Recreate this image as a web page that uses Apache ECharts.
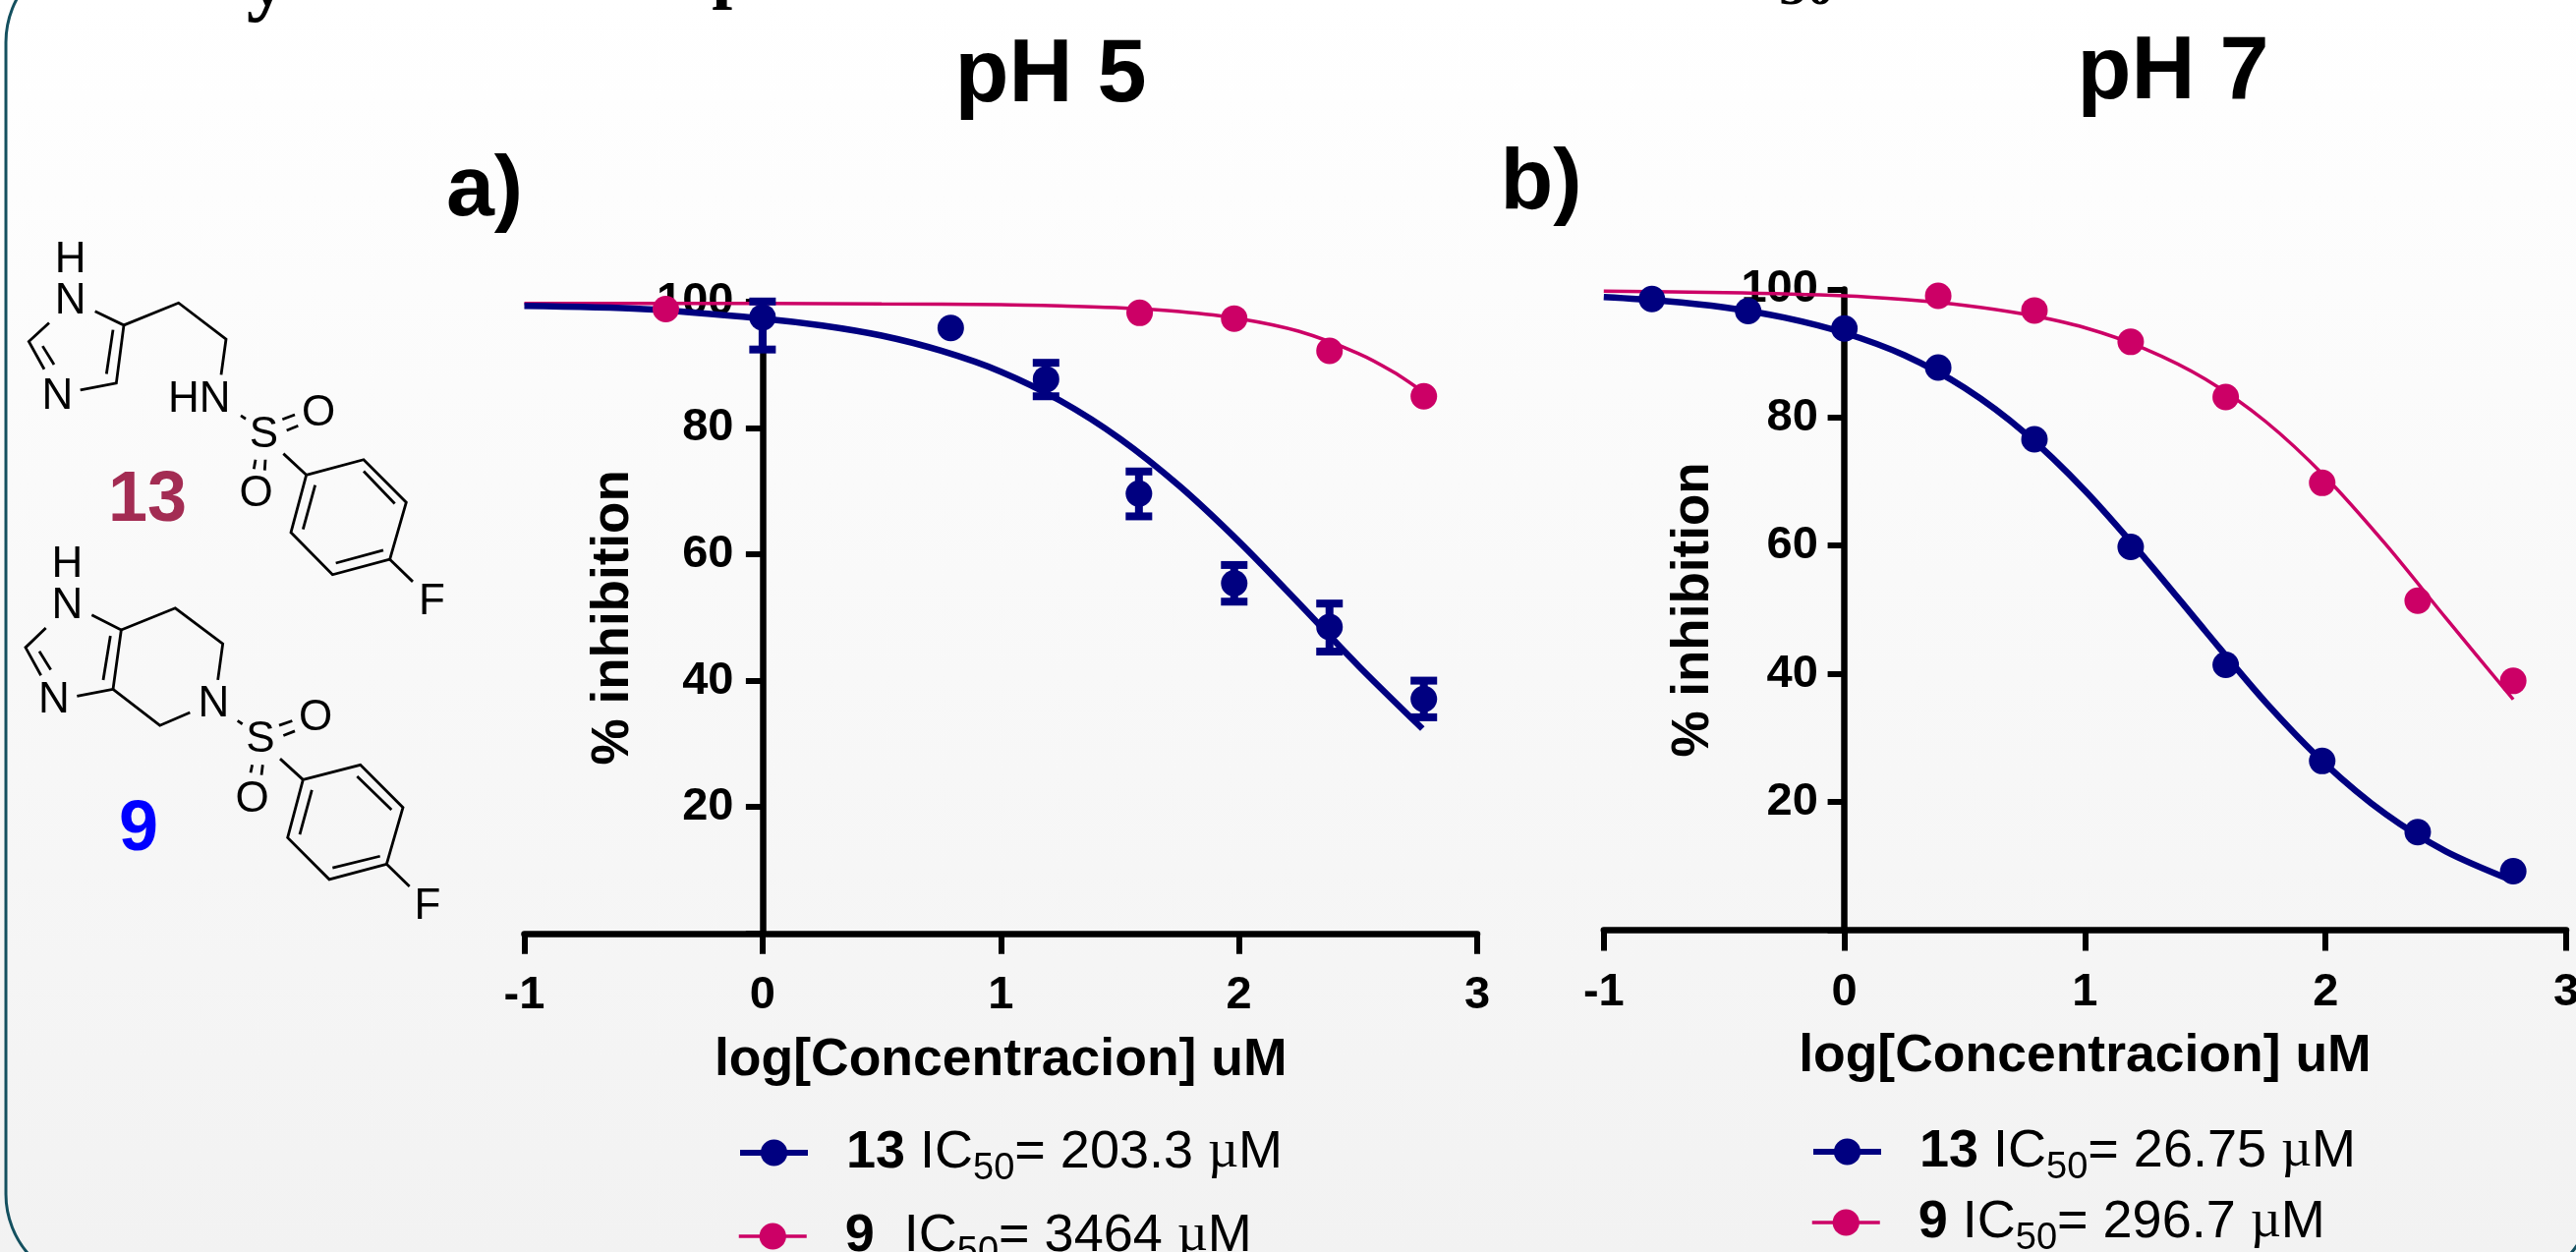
<!DOCTYPE html>
<html><head><meta charset="utf-8">
<style>html,body{margin:0;padding:0;background:#fff}#c{width:2621px;height:1274px}</style>
<script src="https://cdn.jsdelivr.net/npm/echarts@6/dist/echarts.min.js"></script>
</head><body><div id="c"></div>
<script>
// ---- data ----
const yTickLabels = [20, 40, 60, 80, 100];

const aNavyPointX = [0, 0.79, 1.19, 1.58, 1.98, 2.38, 2.776];
const aNavyPointY = [97.5, 95.8, 87.7, 69.6, 55.4, 48.5, 37.1];
const aNavyErrLow = [92.4, 95.8, 85, 66, 52.5, 44.6, 34.2];
const aNavyErrHigh = [100, 95.8, 90.3, 73.1, 58.3, 52.2, 40];
const aNavyCurveX = [-1, -0.5, 0, 0.25, 0.5, 0.75, 1, 1.25, 1.5, 1.75, 2, 2.25, 2.5, 2.77];
const aNavyCurveY = [99.3, 98.8, 97.3, 96.2, 94.6, 92.2, 88.9, 84.3, 78.3, 70.8, 62, 52.3, 42.4, 32.4];
const aPinkPointX = [-0.406, 1.583, 1.98, 2.38, 2.776];
const aPinkPointY = [98.8, 98.2, 97.3, 92.2, 85];
const aPinkCurveX = [-1, -0.5, 0, 0.5, 1, 1.25, 1.5, 1.75, 2, 2.25, 2.5, 2.65, 2.78];
const aPinkCurveY = [99.7, 99.7, 99.7, 99.6, 99.5, 99.3, 99.0, 98.4, 97.3, 95.3, 91.8, 88.8, 85.5];

const bNavyPointX = [-0.8, -0.4, 0, 0.39, 0.79, 1.19, 1.585, 1.986, 2.383, 2.78];
const bNavyPointY = [98.5, 96.6, 93.9, 87.8, 76.6, 59.8, 41.4, 26.4, 15.3, 9.2];
const bNavyCurveX = [-1, -0.75, -0.5, -0.25, 0, 0.25, 0.5, 0.75, 1, 1.25, 1.5, 1.75, 2, 2.25, 2.5, 2.78];
const bNavyCurveY = [98.8, 98.2, 97.2, 95.6, 93.2, 89.7, 84.6, 77.6, 68.6, 58, 46.7, 35.6, 25.9, 18.1, 12.3, 7.7];
const bPinkPointX = [0.39, 0.79, 1.19, 1.585, 1.986, 2.383, 2.78];
const bPinkPointY = [99, 96.7, 91.8, 83.2, 69.8, 51.4, 38.9];
const bPinkCurveX = [-1, -0.5, 0, 0.25, 0.5, 0.75, 1, 1.25, 1.5, 1.75, 2, 2.25, 2.5, 2.78];
const bPinkCurveY = [99.7, 99.5, 99, 98.4, 97.5, 96.1, 94, 90.7, 86, 79.4, 70.7, 60.2, 48.7, 36];

const legendA = { navy: ['13', '203.3'], pink: ['9 ', '3464'] };
const legendB = { navy: ['13', '26.75'], pink: ['9', '296.7'] };
const titles = ['pH 5', 'pH 7'];
const panelLabels = ['a)', 'b)'];
const xName = 'log[Concentracion] uM';
const yName = '% inhibition';

// ---- styles ----
const NAVY = '#000080', PINK = '#cc0066', FONT = '"Liberation Sans", Arial, sans-serif';
const zip = (xs, ys) => xs.map((x, i) => [x, ys[i]]);
const chart = echarts.init(document.getElementById('c'), null, { renderer: 'canvas', width: 2621, height: 1274 });

function axes(idx) {
  return {
    x: {
      type: 'value', gridIndex: idx, min: -1, max: 3, interval: 1,
      axisLine: { show: true, onZero: true, lineStyle: { color: '#000', width: 6.5 } },
      axisTick: { show: true, length: 21, lineStyle: { color: '#000', width: 6 } },
      axisLabel: { color: '#000', fontFamily: FONT, fontWeight: 'bold', fontSize: 47, margin: 40, showMinLabel: true, showMaxLabel: true, hideOverlap: false },
      splitLine: { show: false },
      name: xName, nameLocation: 'middle', nameGap: 102, nameMoveOverlap: false,
      nameTextStyle: { color: '#000', fontFamily: FONT, fontWeight: 'bold', fontSize: 53.5 }
    },
    y: {
      type: 'value', gridIndex: idx, min: 0, max: 100, interval: 20,
      axisLine: { show: true, onZero: true, lineStyle: { color: '#000', width: 6.5 } },
      axisTick: { show: true, length: 17, lineStyle: { color: '#000', width: 6 } },
      axisLabel: { color: '#000', fontFamily: FONT, fontWeight: 'bold', fontSize: 47, margin: idx ? -218 : -213, padding: [10, 0, 0, 0],
        formatter: v => yTickLabels.includes(v) ? String(v) : '' },
      splitLine: { show: false },
      name: yName, nameLocation: 'middle', nameGap: idx ? -118 : -117.5, nameRotate: 90, nameMoveOverlap: false,
      nameTextStyle: { color: '#000', fontFamily: FONT, fontWeight: 'bold', fontSize: 53 }
    }
  };
}
const A0 = axes(0), A1 = axes(1);

function curve(name, axis, data, color, width) {
  return { type: 'line', name, xAxisIndex: axis, yAxisIndex: axis, data, smooth: 0.3, showSymbol: false, symbol: 'circle',
    clip: false, lineStyle: { color, width }, itemStyle: { color }, silent: true, z: 3 };
}
function points(name, axis, data, color) {
  return { type: 'scatter', name, xAxisIndex: axis, yAxisIndex: axis, data, symbol: 'circle', symbolSize: 27,
    itemStyle: { color, opacity: 1 }, silent: true, z: 4, clip: false };
}
const errorData = aNavyPointX.map((x, i) => [x, aNavyErrLow[i], aNavyErrHigh[i]]).filter(d => d[1] !== d[2]);
const errors = {
  type: 'custom', name: '13 pH 5 error', xAxisIndex: 0, yAxisIndex: 0, data: errorData, z: 4, silent: true, clip: false,
  encode: { x: 0, y: [1, 2] },
  renderItem(params, api) {
    const x = api.value(0), lo = api.coord([x, api.value(1)]), hi = api.coord([x, api.value(2)]);
    const st = { stroke: NAVY, lineWidth: 8, fill: null };
    const seg = (x1, y1, x2, y2) => ({ type: 'line', shape: { x1, y1, x2, y2 }, style: st });
    return { type: 'group', children: [
      seg(lo[0], lo[1], hi[0], hi[1]),
      seg(lo[0] - 13.5, lo[1], lo[0] + 13.5, lo[1]),
      seg(hi[0] - 13.5, hi[1], hi[0] + 13.5, hi[1])
    ] };
  }
};

// legend text
const rich = {
  b: { fontFamily: FONT, fontWeight: 'bold', fontSize: 54, color: '#000', lineHeight: 44 },
  r: { fontFamily: FONT, fontSize: 54, color: '#000', lineHeight: 44 },
  s: { fontFamily: FONT, fontSize: 38, color: '#000', lineHeight: 44, verticalAlign: 'bottom', padding: [0, 0, -14, 0] },
  m: { fontFamily: '"Liberation Serif", serif', fontSize: 54, color: '#000', lineHeight: 44 }
};
const legendText = {};
function addLegend(key, v) {
  legendText[key] = `{p|}{b|${v[0]}}{r| IC}{s|50}{r|= ${v[1]} }{m|µ}{r|M}`;
}
rich.p = { width: 34, lineHeight: 44 };
addLegend('13 pH 5', legendA.navy);
addLegend('9 pH 5', legendA.pink);
addLegend('13 pH 7', legendB.navy);
addLegend('9 pH 7', legendB.pink);
function legend(name, color, width, left, top) {
  return { show: true, orient: 'vertical', left, top, padding: 0, itemWidth: 69, itemHeight: 34, selectedMode: false,
    data: [{ name, lineStyle: { color, width } }],
    formatter: n => legendText[n], textStyle: { rich, color: '#000' } };
}

// decoration: structures, panel text, frame
const mx = z => z / 3, my = z => 220 + z / 2.119;
const bonds = [
  [[290,205],[378,235],[355,360],[245,375]], [[345,245],[325,340]], [[150,230],[88,270],[135,330]], [[130,280],[165,320]],
  [[378,235],[545,187],[690,265],[675,342]], [[735,430],[750,437]],
  [[862,438],[900,428]], [[875,462],[910,452]], [[780,525],[775,545]], [[810,525],[808,548]], [[865,512],[935,558]],
  [[935,558],[1110,525],[1240,617],[1190,740],[1015,773],[888,682],[935,558]],
  [[962,580],[925,675]], [[1110,550],[1205,620]], [[1025,748],[1170,720]], [[1190,740],[1260,788]],
  [[280,860],[370,892],[345,1020],[235,1035]], [[337,905],[315,1000]], [[140,888],[78,930],[125,990]], [[120,938],[155,978]],
  [[370,892],[535,845],[680,922],[665,1000]], [[345,1020],[488,1098],[580,1070]], [[725,1088],[740,1095]],
  [[852,1098],[892,1088]], [[865,1120],[900,1110]], [[770,1183],[765,1200]], [[802,1183],[798,1205]], [[855,1170],[925,1215]],
  [[925,1215],[1100,1183],[1230,1275],[1180,1397],[1005,1430],[878,1340],[925,1215]],
  [[952,1237],[915,1333]], [[1090,1208],[1195,1280]], [[1015,1405],[1160,1380]], [[1180,1397],[1250,1445]]
];
const atoms = [['H',215,95],['N',215,185],['N',175,390],['HN',608,395],['S',805,472],['O',972,425],['O',782,600],['F',1318,833],
  ['H',205,752],['N',205,842],['N',165,1045],['N',652,1052],['S',795,1130],['O',963,1083],['O',770,1258],['F',1305,1490]];
const txt = (text, x, y, size, opts = {}) => ({ type: 'text', silent: true, z: opts.z || 5,
  style: { text, x, y, fill: opts.fill || '#000', align: 'center', verticalAlign: 'middle',
    font: `${opts.weight || 'bold'} ${size}px ${opts.family || FONT}` } });
const graphic = [
  { type: 'rect', silent: true, z: -1, shape: { x: 6, y: -50, width: 2632, height: 1358, r: 93 },
    style: { fill: 'transparent', stroke: '#14505f', lineWidth: 3 } },
  ...bonds.map(p => ({ type: 'polyline', silent: true, shape: { points: p.map(q => [mx(q[0]), my(q[1])]) },
    style: { stroke: '#000', lineWidth: 2.8, fill: null } })),
  ...atoms.map(a => txt(a[0], mx(a[1]), my(a[2]), 44, { weight: 'normal' })),
  txt('13', 150, 510, 72, { fill: '#a32c53' }),
  txt('9', 141, 845, 72, { fill: '#0000ff' }),
  txt(titles[0], 1069, 78, 90),
  txt(titles[1], 2211, 75, 90),
  txt(panelLabels[0], 493, 195, 88),
  txt(panelLabels[1], 1568, 188, 88),
  txt('y', 272, -17, 85, { family: '"Liberation Serif", serif' }),
  txt('p', 745, -25, 75, { family: '"Liberation Serif", serif' }),
  txt('50', 1838, -10, 56, { family: '"Liberation Serif", serif' })
];

chart.setOption({
  animation: false,
  backgroundColor: { type: 'linear', x: 0, y: 0, x2: 0, y2: 1, colorStops: [{ offset: 0, color: '#ffffff' }, { offset: 1, color: '#f2f2f2' }] },
  grid: [
    { left: 533.5, top: 306.8, width: 969.5, height: 643, outerBoundsMode: 'none' },
    { left: 1631.8, top: 294.4, width: 979.2, height: 652.1, outerBoundsMode: 'none' }
  ],
  xAxis: [A0.x, A1.x],
  yAxis: [A0.y, A1.y],
  legend: [
    legend('13 pH 5', NAVY, 6, 750, 1146),
    legend('9 pH 5', PINK, 3.5, 750, 1231),
    legend('13 pH 7', NAVY, 6, 1842, 1145),
    legend('9 pH 7', PINK, 3.5, 1842, 1217)
  ],
  graphic,
  series: [
    curve('9 pH 5', 0, zip(aPinkCurveX, aPinkCurveY), PINK, 3.5),
    curve('13 pH 5', 0, zip(aNavyCurveX, aNavyCurveY), NAVY, 6.5),
    points('9 pH 5 points', 0, zip(aPinkPointX, aPinkPointY), PINK),
    errors,
    points('13 pH 5 points', 0, zip(aNavyPointX, aNavyPointY), NAVY),
    curve('9 pH 7', 1, zip(bPinkCurveX, bPinkCurveY), PINK, 3.5),
    curve('13 pH 7', 1, zip(bNavyCurveX, bNavyCurveY), NAVY, 6.5),
    points('9 pH 7 points', 1, zip(bPinkPointX, bPinkPointY), PINK),
    points('13 pH 7 points', 1, zip(bNavyPointX, bNavyPointY), NAVY)
  ]
});
</script></body></html>
